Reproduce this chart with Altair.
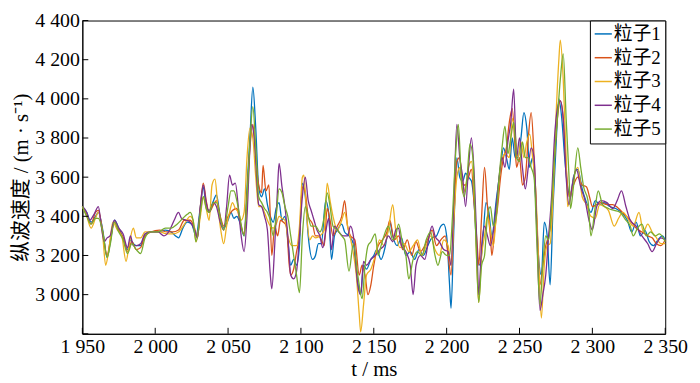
import altair as alt
import pandas as pd

series_names = ["粒子1", "粒子2", "粒子3", "粒子4", "粒子5"]
colors = ["#0072BD", "#D95319", "#EDB120", "#7E2F8E", "#77AC30"]

p1 = [(1950,3450),(1953,3420),(1956,3370),(1959,3400),(1961,3420),(1964,3330),(1967,3190),(1969,3260),(1972,3380),(1975,3340),(1978,3290),(1981,3230),(1983,3280),(1985,3260),(1987,3250),(1990,3250),(1993,3310),(1997,3320),(2002,3320),(2007,3330),(2011,3320),(2014,3300),(2016,3290),(2019,3340),(2022,3370),(2025,3360),(2028,3300),(2031,3450),(2033,3550),(2035,3450),(2037,3430),(2040,3480),(2042,3510),(2045,3380),(2047,3340),(2050,3380),(2052,3420),(2054,3390),(2056,3400),(2058,3370),(2061,3300),(2063,3550),(2065,3800),(2067,4060),(2069,3850),(2071,3550),(2073,3500),(2075,3540),(2077,3460),(2079,3400),(2081,3370),(2083,3440),(2085,3470),(2087,3380),(2089,3400),(2091,3280),(2093,3150),(2095,3180),(2097,3150),(2099,3250),(2101,3570),(2103,3500),(2105,3300),(2108,3180),(2110,3200),(2112,3260),(2114,3260),(2117,3480),(2119,3420),(2121,3180),(2123,3300),(2125,3330),(2128,3360),(2130,3320),(2133,3300),(2136,3260),(2139,3060),(2141,3000),(2143,3150),(2145,3130),(2148,3180),(2150,3200),(2152,3230),(2155,3180),(2158,3250),(2161,3370),(2163,3300),(2166,3250),(2169,3290),(2172,3200),(2175,3220),(2178,3180),(2181,3230),(2184,3200),(2187,3250),(2190,3290),(2193,3300),(2196,3350),(2198,3360),(2200,3300),(2202,3050),(2203,2930),(2205,3350),(2207,3700),(2209,3600),(2211,3580),(2213,3620),(2215,3600),(2217,3580),(2219,3450),(2221,3200),(2223,3150),(2225,3300),(2227,3470),(2229,3420),(2231,3300),(2234,3480),(2237,3650),(2239,3750),(2241,3700),(2243,3640),(2245,3800),(2247,3700),(2249,3700),(2251,3800),(2253,3930),(2255,3850),(2257,3650),(2259,3700),(2261,3500),(2263,3200),(2265,3100),(2267,3370),(2269,3300),(2271,3050),(2273,3450),(2275,3750),(2277,4000),(2279,3900),(2281,3700),(2283,3550),(2285,3500),(2287,3600),(2290,3640),(2293,3540),(2296,3470),(2299,3420),(2302,3480),(2305,3460),(2308,3470),(2312,3450),(2316,3440),(2320,3420),(2324,3380),(2327,3320),(2330,3370),(2333,3300),(2336,3330),(2339,3270),(2342,3250),(2345,3280),(2348,3300),(2350,3280)]

p2 = [(1950,3450),(1953,3410),(1956,3360),(1959,3420),(1961,3430),(1964,3320),(1967,3200),(1969,3270),(1972,3370),(1975,3330),(1978,3290),(1981,3220),(1984,3270),(1987,3230),(1990,3240),(1993,3300),(1997,3320),(2003,3330),(2008,3320),(2012,3320),(2016,3330),(2020,3380),(2024,3380),(2027,3340),(2029,3290),(2031,3450),(2033,3570),(2035,3480),(2037,3420),(2040,3460),(2042,3480),(2045,3390),(2047,3350),(2050,3400),(2053,3430),(2056,3440),(2058,3380),(2061,3310),(2063,3500),(2065,3750),(2067,3870),(2069,3700),(2071,3560),(2073,3520),(2074,3660),(2076,3530),(2078,3560),(2080,3200),(2082,3350),(2084,3300),(2086,3380),(2088,3370),(2090,3350),(2092,3150),(2093,3100),(2095,3130),(2097,3220),(2099,3300),(2101,3550),(2103,3520),(2105,3400),(2108,3360),(2110,3300),(2112,3300),(2114,3280),(2116,3250),(2118,3440),(2120,3380),(2122,3300),(2125,3350),(2128,3400),(2130,3480),(2132,3350),(2134,3300),(2137,3280),(2140,3100),(2142,3150),(2144,3100),(2146,3000),(2148,3050),(2150,3150),(2153,3250),(2156,3280),(2159,3320),(2161,3380),(2164,3280),(2167,3300),(2170,3230),(2173,3280),(2176,3200),(2179,3270),(2182,3220),(2185,3250),(2188,3300),(2190,3330),(2193,3250),(2196,3280),(2199,3300),(2201,3200),(2203,3100),(2205,3400),(2207,3680),(2209,3700),(2211,3560),(2213,3560),(2215,3600),(2217,3640),(2219,3450),(2221,3250),(2222,3150),(2224,3400),(2226,3650),(2228,3450),(2230,3300),(2231,3200),(2233,3330),(2235,3450),(2237,3600),(2239,3700),(2241,3750),(2243,3880),(2245,3950),(2247,3750),(2248,3650),(2250,3700),(2252,3560),(2254,3600),(2256,3800),(2258,3930),(2260,3700),(2262,3350),(2264,3050),(2266,3150),(2268,3250),(2270,3300),(2272,3400),(2274,3700),(2276,3900),(2278,3990),(2280,3900),(2282,3650),(2284,3500),(2287,3560),(2290,3600),(2293,3560),(2296,3550),(2298,3500),(2300,3450),(2303,3460),(2306,3470),(2310,3460),(2314,3460),(2318,3440),(2322,3410),(2326,3380),(2330,3340),(2334,3320),(2338,3300),(2341,3290),(2344,3260),(2347,3250),(2350,3280)]

p3 = [(1950,3450),(1953,3400),(1956,3340),(1959,3390),(1961,3420),(1964,3300),(1966,3150),(1968,3220),(1971,3370),(1974,3330),(1977,3300),(1980,3170),(1982,3250),(1985,3340),(1987,3290),(1990,3290),(1993,3320),(1997,3320),(2003,3320),(2008,3310),(2012,3310),(2016,3320),(2020,3360),(2024,3400),(2026,3380),(2028,3270),(2031,3400),(2033,3500),(2035,3440),(2037,3380),(2039,3560),(2041,3590),(2043,3450),(2045,3330),(2047,3260),(2049,3350),(2051,3420),(2053,3470),(2055,3440),(2057,3420),(2059,3380),(2061,3420),(2063,3700),(2065,3850),(2067,3800),(2069,3600),(2071,3450),(2073,3450),(2075,3420),(2077,3380),(2079,3350),(2081,3340),(2083,3360),(2085,3400),(2087,3390),(2089,3380),(2091,3300),(2094,3250),(2097,3250),(2099,3350),(2101,3600),(2102,3610),(2104,3400),(2106,3280),(2108,3300),(2110,3290),(2113,3300),(2116,3330),(2118,3570),(2120,3480),(2122,3400),(2125,3330),(2128,3380),(2130,3420),(2132,3350),(2135,3250),(2138,3100),(2140,2900),(2141,2810),(2143,2950),(2145,3100),(2148,3130),(2151,3200),(2154,3280),(2157,3250),(2160,3330),(2163,3460),(2165,3330),(2168,3240),(2171,3260),(2174,3220),(2177,3250),(2180,3280),(2183,3200),(2186,3250),(2189,3300),(2192,3230),(2195,3200),(2198,3280),(2201,3250),(2203,3150),(2205,3400),(2207,3600),(2209,3650),(2211,3520),(2213,3550),(2215,3650),(2217,3680),(2219,3500),(2221,3100),(2222,2960),(2224,3200),(2226,3300),(2228,3400),(2230,3330),(2232,3250),(2234,3400),(2237,3650),(2240,3720),(2243,3700),(2245,3900),(2247,3820),(2249,3700),(2251,3780),(2253,3700),(2255,3780),(2257,3820),(2259,3700),(2261,3550),(2263,3200),(2265,2880),(2267,3150),(2269,3250),(2271,3260),(2273,3500),(2275,3900),(2277,4200),(2278,4300),(2280,4100),(2282,3700),(2283,3450),(2285,3500),(2288,3620),(2290,3650),(2293,3500),(2296,3460),(2299,3400),(2302,3390),(2305,3460),(2308,3450),(2311,3430),(2315,3350),(2318,3390),(2321,3420),(2325,3380),(2328,3350),(2332,3420),(2335,3320),(2338,3360),(2341,3320),(2344,3290),(2347,3260),(2350,3260)]

p4 = [(1950,3450),(1953,3420),(1955,3380),(1958,3410),(1961,3450),(1963,3350),(1965,3270),(1967,3290),(1969,3300),(1972,3380),(1975,3340),(1978,3310),(1981,3240),(1983,3300),(1985,3250),(1987,3250),(1990,3260),(1993,3310),(1997,3320),(2002,3320),(2006,3300),(2010,3330),(2013,3380),(2016,3420),(2018,3390),(2021,3380),(2024,3370),(2027,3330),(2029,3290),(2031,3450),(2033,3560),(2035,3470),(2037,3420),(2040,3470),(2042,3450),(2045,3360),(2047,3330),(2049,3450),(2051,3610),(2053,3560),(2055,3570),(2057,3450),(2059,3300),(2061,3220),(2063,3400),(2065,3750),(2066,3870),(2068,3800),(2070,3550),(2071,3460),(2073,3450),(2075,3400),(2077,3330),(2079,3100),(2080,3030),(2082,3250),(2084,3550),(2085,3670),(2087,3550),(2089,3450),(2091,3300),(2093,3100),(2095,3080),(2097,3120),(2099,3300),(2101,3500),(2103,3600),(2105,3480),(2107,3430),(2109,3380),(2111,3330),(2113,3300),(2115,3240),(2117,3320),(2119,3390),(2121,3230),(2123,3350),(2126,3320),(2129,3300),(2132,3300),(2134,3350),(2136,3300),(2139,3050),(2141,3000),(2143,3170),(2145,3150),(2148,3180),(2151,3200),(2154,3230),(2157,3250),(2160,3300),(2163,3270),(2165,3330),(2167,3340),(2169,3250),(2172,3220),(2175,3150),(2177,3000),(2179,3150),(2182,3200),(2185,3180),(2188,3300),(2190,3350),(2192,3300),(2195,3270),(2198,3230),(2201,3220),(2203,3150),(2205,3500),(2207,3870),(2209,3700),(2211,3600),(2213,3450),(2215,3650),(2217,3800),(2219,3600),(2221,3200),(2222,3000),(2224,3250),(2226,3350),(2228,3300),(2230,3250),(2232,3320),(2234,3450),(2236,3600),(2238,3700),(2240,3650),(2242,3780),(2244,3880),(2246,4050),(2248,3700),(2250,3800),(2252,3650),(2254,3540),(2256,3650),(2258,3750),(2260,3700),(2262,3300),(2264,2920),(2266,3000),(2268,3100),(2270,3300),(2272,3500),(2274,3800),(2276,3950),(2278,3990),(2280,3900),(2282,3600),(2284,3460),(2286,3550),(2289,3640),(2292,3550),(2295,3480),(2298,3370),(2300,3330),(2303,3450),(2306,3480),(2310,3470),(2314,3440),(2317,3480),(2320,3530),(2323,3450),(2326,3380),(2330,3350),(2334,3300),(2338,3260),(2341,3220),(2344,3260),(2347,3290),(2350,3280)]

p5 = [(1950,3450),(1953,3400),(1956,3360),(1959,3390),(1961,3390),(1964,3320),(1967,3190),(1969,3250),(1972,3370),(1975,3320),(1978,3280),(1981,3210),(1984,3260),(1987,3230),(1990,3210),(1993,3290),(1997,3320),(2002,3320),(2007,3340),(2011,3340),(2015,3360),(2019,3390),(2022,3410),(2024,3420),(2026,3380),(2028,3270),(2031,3420),(2033,3500),(2035,3440),(2037,3420),(2040,3470),(2042,3470),(2045,3380),(2047,3330),(2050,3450),(2052,3530),(2054,3530),(2056,3480),(2058,3400),(2061,3300),(2063,3500),(2065,3780),(2067,3960),(2069,3750),(2071,3500),(2073,3470),(2075,3440),(2077,3420),(2079,3380),(2081,3300),(2083,3400),(2085,3540),(2087,3520),(2089,3450),(2091,3400),(2093,3300),(2095,3200),(2097,3100),(2099,3010),(2101,3300),(2103,3450),(2105,3400),(2107,3350),(2110,3350),(2113,3320),(2116,3400),(2118,3520),(2120,3450),(2122,3350),(2125,3330),(2128,3300),(2130,3280),(2133,3120),(2136,3260),(2139,3100),(2142,2980),(2144,3150),(2146,3250),(2148,3270),(2151,3310),(2153,3200),(2155,3250),(2157,3300),(2160,3350),(2163,3280),(2165,3300),(2167,3360),(2170,3250),(2172,3200),(2174,3080),(2177,3180),(2180,3220),(2183,3200),(2186,3280),(2189,3320),(2192,3200),(2194,3150),(2197,3220),(2200,3200),(2202,3200),(2204,3400),(2206,3700),(2208,3870),(2210,3600),(2212,3500),(2214,3600),(2216,3770),(2218,3700),(2220,3300),(2222,2960),(2224,3150),(2226,3200),(2228,3400),(2230,3450),(2232,3350),(2234,3400),(2236,3600),(2238,3750),(2240,3860),(2242,3720),(2244,3800),(2246,3880),(2248,3700),(2250,3680),(2252,3780),(2254,3700),(2256,3700),(2258,3650),(2260,3600),(2262,3250),(2264,2950),(2266,3150),(2268,3300),(2270,3280),(2272,3450),(2274,3700),(2276,3900),(2278,4100),(2280,4230),(2282,3900),(2284,3600),(2285,3440),(2287,3550),(2290,3750),(2292,3650),(2294,3550),(2297,3480),(2299,3300),(2302,3450),(2304,3530),(2307,3460),(2311,3440),(2315,3430),(2319,3420),(2323,3380),(2326,3350),(2328,3300),(2331,3340),(2334,3360),(2337,3300),(2340,3320),(2343,3300),(2346,3310),(2350,3270)]

x_ticks = [1950, 2000, 2050, 2100, 2150, 2200, 2250, 2300, 2350]
y_ticks = [2800, 3000, 3200, 3400, 3600, 3800, 4000, 4200, 4400]
y_labels = [3000, 3200, 3400, 3600, 3800, 4000, 4200, 4400]

rows = []
for name, pts in zip(series_names, [p1, p2, p3, p4, p5]):
    for t, v in pts:
        rows.append({"series": name, "t": t, "v": v})
df = pd.DataFrame(rows)

W, H = 588, 316
SERIF = "Liberation Serif, Noto Sans CJK SC"
fmt = "replace(format(datum.value, ','), ',', ' ')"

x_scale = alt.Scale(domain=[1950, 2350], nice=False, zero=False)
y_scale = alt.Scale(domain=[2800, 4400], nice=False, zero=False)

x_axis = alt.Axis(values=x_ticks, labelExpr=fmt, title="t / ms",
                  tickSize=0, labelPadding=3, titlePadding=2, labelFlush=False,
                  labelFontSize=20, titleFontSize=21, grid=False)
y_axis = alt.Axis(values=y_labels, labelExpr=fmt, title="纵波速度 / (m · s⁻¹)",
                  tickSize=0, labelPadding=3, titlePadding=3, labelFlush=False,
                  labelFontSize=20, titleFontSize=21, grid=False)

lines = alt.Chart(df).mark_line(strokeWidth=1.3, interpolate="monotone").encode(
    x=alt.X("t:Q", scale=x_scale, axis=x_axis),
    y=alt.Y("v:Q", scale=y_scale, axis=y_axis),
    color=alt.Color("series:N", scale=alt.Scale(domain=series_names, range=colors),
                    legend=alt.Legend(title=None, orient="top-right", offset=0,
                                      symbolType="stroke", symbolSize=300,
                                      symbolStrokeWidth=1.5, labelFontSize=19,
                                      labelFont=SERIF, rowPadding=4, padding=4,
                                      strokeColor="black", fillColor="white",
                                      labelOffset=1)),
    order=alt.Order("t:Q"),
)

yt = alt.Chart(pd.DataFrame({"v": y_ticks})).mark_rule(color="black", strokeWidth=1).encode(
    y=alt.Y("v:Q", scale=y_scale, axis=y_axis), x=alt.value(0), x2=alt.value(6))
xt = alt.Chart(pd.DataFrame({"t": x_ticks})).mark_rule(color="black", strokeWidth=1).encode(
    x=alt.X("t:Q", scale=x_scale, axis=x_axis), y=alt.value(H), y2=alt.value(H - 6))

chart = alt.layer(lines, yt, xt).properties(
    width=W, height=H,
    autosize=alt.AutoSizeParams(type="none"),
    padding={"left": 75, "top": 11, "right": 27, "bottom": 48},
).configure_view(stroke="black", strokeWidth=1).configure_axis(
    labelFont=SERIF, titleFont=SERIF, labelColor="black", titleColor="black",
    titleFontWeight="normal", domainColor="black", domainWidth=1,
).configure_legend(labelColor="black")

chart.save("out.html", embed_options={"renderer": "svg", "actions": False})
